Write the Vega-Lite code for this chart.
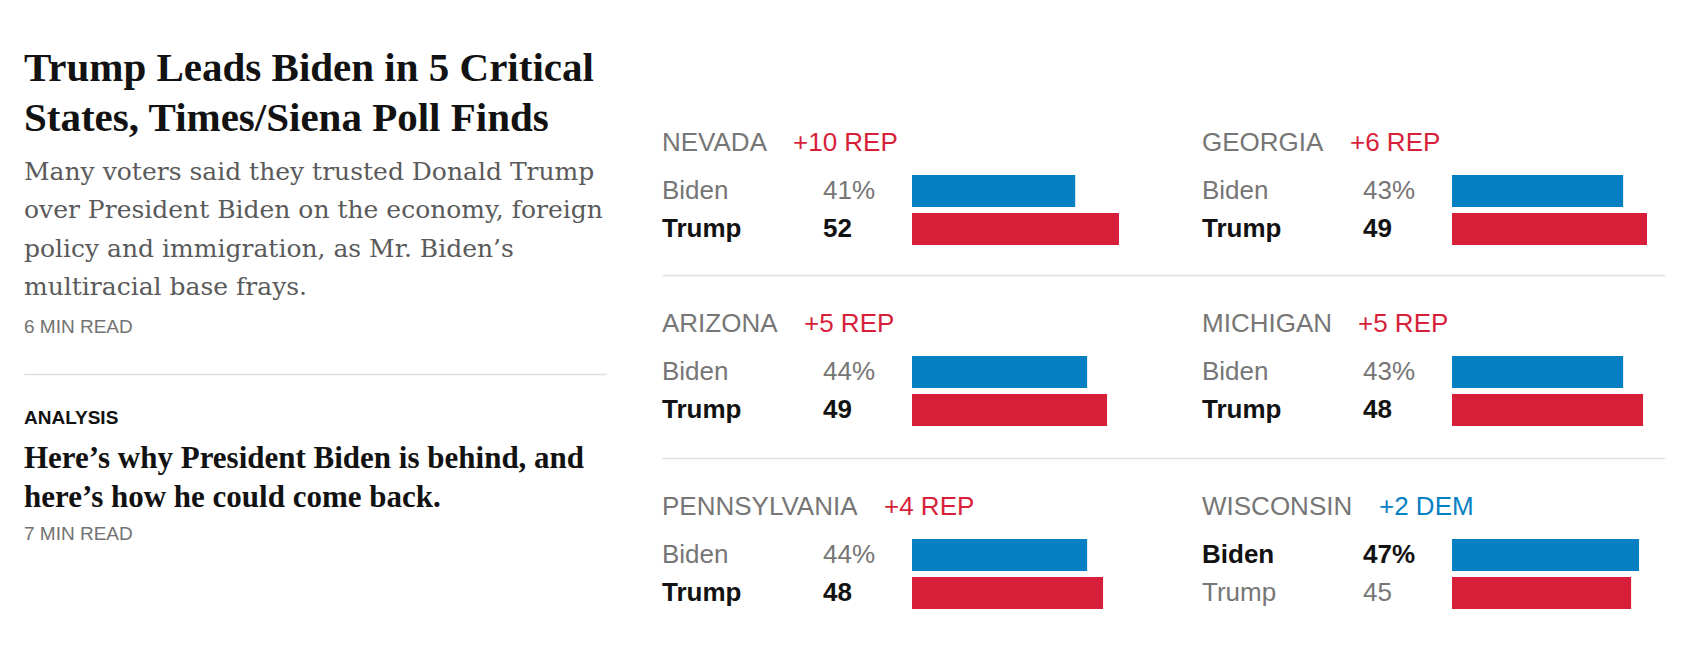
{
  "$schema": "https://vega.github.io/schema/vega-lite/v6.json",
  "padding": {"top": 46, "left": 24, "right": 0, "bottom": 0},
  "background": "white",
  "config": {
    "view": {"stroke": null},
    "legend": {
      "orient": "top",
      "direction": "horizontal",
      "titleOrient": "left",
      "titleFont": "Liberation Sans",
      "titleFontSize": 26,
      "titleFontWeight": "normal",
      "titleColor": "#767676",
      "labelFont": "Liberation Sans",
      "labelFontSize": 26,
      "symbolSize": 0,
      "symbolOpacity": 0,
      "symbolStrokeWidth": 0,
      "labelOffset": 0,
      "titlePadding": 0,
      "offset": 19,
      "padding": 0,
      "titleLimit": 500,
      "labelLimit": 300
    }
  },
  "datasets": {
    "polls": [
      {"state": "NEVADA", "candidate": "Biden", "pct": 41, "label": "41%", "lead": "+10 REP", "winner": "Trump"},
      {"state": "NEVADA", "candidate": "Trump", "pct": 52, "label": "52", "lead": "+10 REP", "winner": "Trump"},
      {"state": "GEORGIA", "candidate": "Biden", "pct": 43, "label": "43%", "lead": "+6 REP", "winner": "Trump"},
      {"state": "GEORGIA", "candidate": "Trump", "pct": 49, "label": "49", "lead": "+6 REP", "winner": "Trump"},
      {"state": "ARIZONA", "candidate": "Biden", "pct": 44, "label": "44%", "lead": "+5 REP", "winner": "Trump"},
      {"state": "ARIZONA", "candidate": "Trump", "pct": 49, "label": "49", "lead": "+5 REP", "winner": "Trump"},
      {"state": "MICHIGAN", "candidate": "Biden", "pct": 43, "label": "43%", "lead": "+5 REP", "winner": "Trump"},
      {"state": "MICHIGAN", "candidate": "Trump", "pct": 48, "label": "48", "lead": "+5 REP", "winner": "Trump"},
      {"state": "PENNSYLVANIA", "candidate": "Biden", "pct": 44, "label": "44%", "lead": "+4 REP", "winner": "Trump"},
      {"state": "PENNSYLVANIA", "candidate": "Trump", "pct": 48, "label": "48", "lead": "+4 REP", "winner": "Trump"},
      {"state": "WISCONSIN", "candidate": "Biden", "pct": 47, "label": "47%", "lead": "+2 DEM", "winner": "Biden"},
      {"state": "WISCONSIN", "candidate": "Trump", "pct": 45, "label": "45", "lead": "+2 DEM", "winner": "Biden"}
    ]
  },
  "spacing": 56,
  "hconcat": [
    {
      "spacing": 0,
      "vconcat": [
        {"width": 10, "height": 1, "data": {"values": []}, "mark": "point", "encoding": {}},
        {
          "spacing": 35,
          "vconcat": [
            {
              "width": 582,
              "height": 20,
              "title": {
                "text": ["Trump Leads Biden in 5 Critical", "States, Times/Siena Poll Finds"],
                "subtitle": ["Many voters said they trusted Donald Trump", "over President Biden on the economy, foreign", "policy and immigration, as Mr. Biden’s", "multiracial base frays."],
                "anchor": "start",
                "font": "Liberation Serif",
                "fontSize": 41,
                "fontWeight": "bold",
                "color": "#121212",
                "lineHeight": 50,
                "subtitleFont": "DejaVu Serif",
                "subtitleFontSize": 25,
                "subtitleColor": "#5a5a5a",
                "subtitleLineHeight": 38.5,
                "subtitlePadding": 20,
                "offset": 16
              },
              "data": {"values": [{"note": "6 MIN READ"}]},
              "mark": {"type": "text", "align": "left", "baseline": "middle", "font": "Liberation Sans", "fontSize": 19, "color": "#727272"},
              "encoding": {
                "text": {"field": "note", "type": "nominal"},
                "x": {"datum": 0, "type": "quantitative", "scale": {"domain": [0, 1], "nice": false},
                      "axis": {"orient": "bottom", "domain": true, "domainColor": "#e0e0e0", "domainWidth": 1.5, "ticks": false, "labels": false, "grid": false, "title": null, "offset": 37}}
              }
            },
            {
              "width": 582,
              "height": 20,
              "title": {
                "text": "ANALYSIS",
                "subtitle": ["Here’s why President Biden is behind, and", "here’s how he could come back."],
                "anchor": "start",
                "font": "Liberation Sans",
                "fontSize": 19,
                "fontWeight": "bold",
                "color": "#121212",
                "subtitleFont": "Liberation Serif",
                "subtitleFontSize": 31,
                "subtitleFontWeight": "bold",
                "subtitleColor": "#121212",
                "subtitleLineHeight": 39,
                "subtitlePadding": 16,
                "offset": 11
              },
              "data": {"values": [{"note": "7 MIN READ"}]},
              "mark": {"type": "text", "align": "left", "baseline": "middle", "font": "Liberation Sans", "fontSize": 19, "color": "#727272"},
              "encoding": {
                "text": {"field": "note", "type": "nominal"},
                "x": {"datum": 0, "type": "quantitative", "scale": {"domain": [0, 1], "nice": false}, "axis": null}
              }
            }
          ]
        }
      ]
    },
    {
      "spacing": 0,
      "vconcat": [
        {"width": 10, "height": 84, "data": {"values": []}, "mark": "point", "encoding": {}},
        {
          "columns": 2,
          "spacing": {"row": 36, "column": 0},
          "resolve": {"scale": {"strokeDash": "independent"}, "legend": {"strokeDash": "independent"}},
          "concat": [
            {
              "width": 540, "height": 70,
              "data": {"name": "polls"},
              "transform": [{"filter": "datum.state === 'NEVADA'"}],
              "encoding": {"y": {"field": "candidate", "type": "nominal", "scale": {"domain": ["Biden", "Trump"], "paddingInner": 0.158, "paddingOuter": 0}, "axis": null}},
              "layer": [
                {"mark": {"type": "bar"},
                 "encoding": {
                   "x": {"field": "pct", "type": "quantitative", "scale": {"domain": [-62.81, 72.86], "nice": false, "zero": false},
                         "axis": {"orient": "bottom", "domain": true, "domainColor": "#e0e0e0", "domainWidth": 1.5, "ticks": false, "labels": false, "grid": false, "title": null, "offset": 30}},
                   "x2": {"datum": 0},
                   "color": {"field": "candidate", "type": "nominal", "scale": {"domain": ["Biden", "Trump"], "range": ["#0780c3", "#d71f3a"]}, "legend": null},
                   "strokeDash": {"field": "lead", "type": "nominal", "title": "NEVADA", "legend": {"labelColor": "#d71f3a"}}
                 }},
                {"transform": [{"filter": "datum.candidate === datum.winner"}],
                 "mark": {"type": "text", "align": "left", "baseline": "middle", "font": "Liberation Sans", "fontSize": 26, "fontWeight": "bold", "color": "#121212"},
                 "encoding": {"x": {"datum": -62.81}, "text": {"field": "candidate"}}},
                {"transform": [{"filter": "datum.candidate !== datum.winner"}],
                 "mark": {"type": "text", "align": "left", "baseline": "middle", "font": "Liberation Sans", "fontSize": 26, "color": "#767676"},
                 "encoding": {"x": {"datum": -62.81}, "text": {"field": "candidate"}}},
                {"transform": [{"filter": "datum.candidate === datum.winner"}],
                 "mark": {"type": "text", "align": "left", "baseline": "middle", "font": "Liberation Sans", "fontSize": 26, "fontWeight": "bold", "color": "#121212"},
                 "encoding": {"x": {"datum": -22.36}, "text": {"field": "label"}}},
                {"transform": [{"filter": "datum.candidate !== datum.winner"}],
                 "mark": {"type": "text", "align": "left", "baseline": "middle", "font": "Liberation Sans", "fontSize": 26, "color": "#767676"},
                 "encoding": {"x": {"datum": -22.36}, "text": {"field": "label"}}}
              ]
            },
            {
              "width": 463, "height": 70,
              "data": {"name": "polls"},
              "transform": [{"filter": "datum.state === 'GEORGIA'"}],
              "encoding": {"y": {"field": "candidate", "type": "nominal", "scale": {"domain": ["Biden", "Trump"], "paddingInner": 0.158, "paddingOuter": 0}, "axis": null}},
              "layer": [
                {"mark": {"type": "bar"},
                 "encoding": {
                   "x": {"field": "pct", "type": "quantitative", "scale": {"domain": [-62.81, 53.52], "nice": false, "zero": false},
                         "axis": {"orient": "bottom", "domain": true, "domainColor": "#e0e0e0", "domainWidth": 1.5, "ticks": false, "labels": false, "grid": false, "title": null, "offset": 30}},
                   "x2": {"datum": 0},
                   "color": {"field": "candidate", "type": "nominal", "scale": {"domain": ["Biden", "Trump"], "range": ["#0780c3", "#d71f3a"]}, "legend": null},
                   "strokeDash": {"field": "lead", "type": "nominal", "title": "GEORGIA", "legend": {"labelColor": "#d71f3a"}}
                 }},
                {"transform": [{"filter": "datum.candidate === datum.winner"}],
                 "mark": {"type": "text", "align": "left", "baseline": "middle", "font": "Liberation Sans", "fontSize": 26, "fontWeight": "bold", "color": "#121212"},
                 "encoding": {"x": {"datum": -62.81}, "text": {"field": "candidate"}}},
                {"transform": [{"filter": "datum.candidate !== datum.winner"}],
                 "mark": {"type": "text", "align": "left", "baseline": "middle", "font": "Liberation Sans", "fontSize": 26, "color": "#767676"},
                 "encoding": {"x": {"datum": -62.81}, "text": {"field": "candidate"}}},
                {"transform": [{"filter": "datum.candidate === datum.winner"}],
                 "mark": {"type": "text", "align": "left", "baseline": "middle", "font": "Liberation Sans", "fontSize": 26, "fontWeight": "bold", "color": "#121212"},
                 "encoding": {"x": {"datum": -22.36}, "text": {"field": "label"}}},
                {"transform": [{"filter": "datum.candidate !== datum.winner"}],
                 "mark": {"type": "text", "align": "left", "baseline": "middle", "font": "Liberation Sans", "fontSize": 26, "color": "#767676"},
                 "encoding": {"x": {"datum": -22.36}, "text": {"field": "label"}}}
              ]
            },
            {
              "width": 540, "height": 70,
              "data": {"name": "polls"},
              "transform": [{"filter": "datum.state === 'ARIZONA'"}],
              "encoding": {"y": {"field": "candidate", "type": "nominal", "scale": {"domain": ["Biden", "Trump"], "paddingInner": 0.158, "paddingOuter": 0}, "axis": null}},
              "layer": [
                {"mark": {"type": "bar"},
                 "encoding": {
                   "x": {"field": "pct", "type": "quantitative", "scale": {"domain": [-62.81, 72.86], "nice": false, "zero": false},
                         "axis": {"orient": "bottom", "domain": true, "domainColor": "#e0e0e0", "domainWidth": 1.5, "ticks": false, "labels": false, "grid": false, "title": null, "offset": 32}},
                   "x2": {"datum": 0},
                   "color": {"field": "candidate", "type": "nominal", "scale": {"domain": ["Biden", "Trump"], "range": ["#0780c3", "#d71f3a"]}, "legend": null},
                   "strokeDash": {"field": "lead", "type": "nominal", "title": "ARIZONA", "legend": {"labelColor": "#d71f3a"}}
                 }},
                {"transform": [{"filter": "datum.candidate === datum.winner"}],
                 "mark": {"type": "text", "align": "left", "baseline": "middle", "font": "Liberation Sans", "fontSize": 26, "fontWeight": "bold", "color": "#121212"},
                 "encoding": {"x": {"datum": -62.81}, "text": {"field": "candidate"}}},
                {"transform": [{"filter": "datum.candidate !== datum.winner"}],
                 "mark": {"type": "text", "align": "left", "baseline": "middle", "font": "Liberation Sans", "fontSize": 26, "color": "#767676"},
                 "encoding": {"x": {"datum": -62.81}, "text": {"field": "candidate"}}},
                {"transform": [{"filter": "datum.candidate === datum.winner"}],
                 "mark": {"type": "text", "align": "left", "baseline": "middle", "font": "Liberation Sans", "fontSize": 26, "fontWeight": "bold", "color": "#121212"},
                 "encoding": {"x": {"datum": -22.36}, "text": {"field": "label"}}},
                {"transform": [{"filter": "datum.candidate !== datum.winner"}],
                 "mark": {"type": "text", "align": "left", "baseline": "middle", "font": "Liberation Sans", "fontSize": 26, "color": "#767676"},
                 "encoding": {"x": {"datum": -22.36}, "text": {"field": "label"}}}
              ]
            },
            {
              "width": 463, "height": 70,
              "data": {"name": "polls"},
              "transform": [{"filter": "datum.state === 'MICHIGAN'"}],
              "encoding": {"y": {"field": "candidate", "type": "nominal", "scale": {"domain": ["Biden", "Trump"], "paddingInner": 0.158, "paddingOuter": 0}, "axis": null}},
              "layer": [
                {"mark": {"type": "bar"},
                 "encoding": {
                   "x": {"field": "pct", "type": "quantitative", "scale": {"domain": [-62.81, 53.52], "nice": false, "zero": false},
                         "axis": {"orient": "bottom", "domain": true, "domainColor": "#e0e0e0", "domainWidth": 1.5, "ticks": false, "labels": false, "grid": false, "title": null, "offset": 32}},
                   "x2": {"datum": 0},
                   "color": {"field": "candidate", "type": "nominal", "scale": {"domain": ["Biden", "Trump"], "range": ["#0780c3", "#d71f3a"]}, "legend": null},
                   "strokeDash": {"field": "lead", "type": "nominal", "title": "MICHIGAN", "legend": {"labelColor": "#d71f3a"}}
                 }},
                {"transform": [{"filter": "datum.candidate === datum.winner"}],
                 "mark": {"type": "text", "align": "left", "baseline": "middle", "font": "Liberation Sans", "fontSize": 26, "fontWeight": "bold", "color": "#121212"},
                 "encoding": {"x": {"datum": -62.81}, "text": {"field": "candidate"}}},
                {"transform": [{"filter": "datum.candidate !== datum.winner"}],
                 "mark": {"type": "text", "align": "left", "baseline": "middle", "font": "Liberation Sans", "fontSize": 26, "color": "#767676"},
                 "encoding": {"x": {"datum": -62.81}, "text": {"field": "candidate"}}},
                {"transform": [{"filter": "datum.candidate === datum.winner"}],
                 "mark": {"type": "text", "align": "left", "baseline": "middle", "font": "Liberation Sans", "fontSize": 26, "fontWeight": "bold", "color": "#121212"},
                 "encoding": {"x": {"datum": -22.36}, "text": {"field": "label"}}},
                {"transform": [{"filter": "datum.candidate !== datum.winner"}],
                 "mark": {"type": "text", "align": "left", "baseline": "middle", "font": "Liberation Sans", "fontSize": 26, "color": "#767676"},
                 "encoding": {"x": {"datum": -22.36}, "text": {"field": "label"}}}
              ]
            },
            {
              "width": 540, "height": 70,
              "data": {"name": "polls"},
              "transform": [{"filter": "datum.state === 'PENNSYLVANIA'"}],
              "encoding": {"y": {"field": "candidate", "type": "nominal", "scale": {"domain": ["Biden", "Trump"], "paddingInner": 0.158, "paddingOuter": 0}, "axis": null}},
              "layer": [
                {"mark": {"type": "bar"},
                 "encoding": {
                   "x": {"field": "pct", "type": "quantitative", "scale": {"domain": [-62.81, 72.86], "nice": false, "zero": false}, "axis": null},
                   "x2": {"datum": 0},
                   "color": {"field": "candidate", "type": "nominal", "scale": {"domain": ["Biden", "Trump"], "range": ["#0780c3", "#d71f3a"]}, "legend": null},
                   "strokeDash": {"field": "lead", "type": "nominal", "title": "PENNSYLVANIA", "legend": {"labelColor": "#d71f3a"}}
                 }},
                {"transform": [{"filter": "datum.candidate === datum.winner"}],
                 "mark": {"type": "text", "align": "left", "baseline": "middle", "font": "Liberation Sans", "fontSize": 26, "fontWeight": "bold", "color": "#121212"},
                 "encoding": {"x": {"datum": -62.81}, "text": {"field": "candidate"}}},
                {"transform": [{"filter": "datum.candidate !== datum.winner"}],
                 "mark": {"type": "text", "align": "left", "baseline": "middle", "font": "Liberation Sans", "fontSize": 26, "color": "#767676"},
                 "encoding": {"x": {"datum": -62.81}, "text": {"field": "candidate"}}},
                {"transform": [{"filter": "datum.candidate === datum.winner"}],
                 "mark": {"type": "text", "align": "left", "baseline": "middle", "font": "Liberation Sans", "fontSize": 26, "fontWeight": "bold", "color": "#121212"},
                 "encoding": {"x": {"datum": -22.36}, "text": {"field": "label"}}},
                {"transform": [{"filter": "datum.candidate !== datum.winner"}],
                 "mark": {"type": "text", "align": "left", "baseline": "middle", "font": "Liberation Sans", "fontSize": 26, "color": "#767676"},
                 "encoding": {"x": {"datum": -22.36}, "text": {"field": "label"}}}
              ]
            },
            {
              "width": 463, "height": 70,
              "data": {"name": "polls"},
              "transform": [{"filter": "datum.state === 'WISCONSIN'"}],
              "encoding": {"y": {"field": "candidate", "type": "nominal", "scale": {"domain": ["Biden", "Trump"], "paddingInner": 0.158, "paddingOuter": 0}, "axis": null}},
              "layer": [
                {"mark": {"type": "bar"},
                 "encoding": {
                   "x": {"field": "pct", "type": "quantitative", "scale": {"domain": [-62.81, 53.52], "nice": false, "zero": false}, "axis": null},
                   "x2": {"datum": 0},
                   "color": {"field": "candidate", "type": "nominal", "scale": {"domain": ["Biden", "Trump"], "range": ["#0780c3", "#d71f3a"]}, "legend": null},
                   "strokeDash": {"field": "lead", "type": "nominal", "title": "WISCONSIN", "legend": {"labelColor": "#0780c3"}}
                 }},
                {"transform": [{"filter": "datum.candidate === datum.winner"}],
                 "mark": {"type": "text", "align": "left", "baseline": "middle", "font": "Liberation Sans", "fontSize": 26, "fontWeight": "bold", "color": "#121212"},
                 "encoding": {"x": {"datum": -62.81}, "text": {"field": "candidate"}}},
                {"transform": [{"filter": "datum.candidate !== datum.winner"}],
                 "mark": {"type": "text", "align": "left", "baseline": "middle", "font": "Liberation Sans", "fontSize": 26, "color": "#767676"},
                 "encoding": {"x": {"datum": -62.81}, "text": {"field": "candidate"}}},
                {"transform": [{"filter": "datum.candidate === datum.winner"}],
                 "mark": {"type": "text", "align": "left", "baseline": "middle", "font": "Liberation Sans", "fontSize": 26, "fontWeight": "bold", "color": "#121212"},
                 "encoding": {"x": {"datum": -22.36}, "text": {"field": "label"}}},
                {"transform": [{"filter": "datum.candidate !== datum.winner"}],
                 "mark": {"type": "text", "align": "left", "baseline": "middle", "font": "Liberation Sans", "fontSize": 26, "color": "#767676"},
                 "encoding": {"x": {"datum": -22.36}, "text": {"field": "label"}}}
              ]
            }
          ]
        }
      ]
    }
  ]
}
